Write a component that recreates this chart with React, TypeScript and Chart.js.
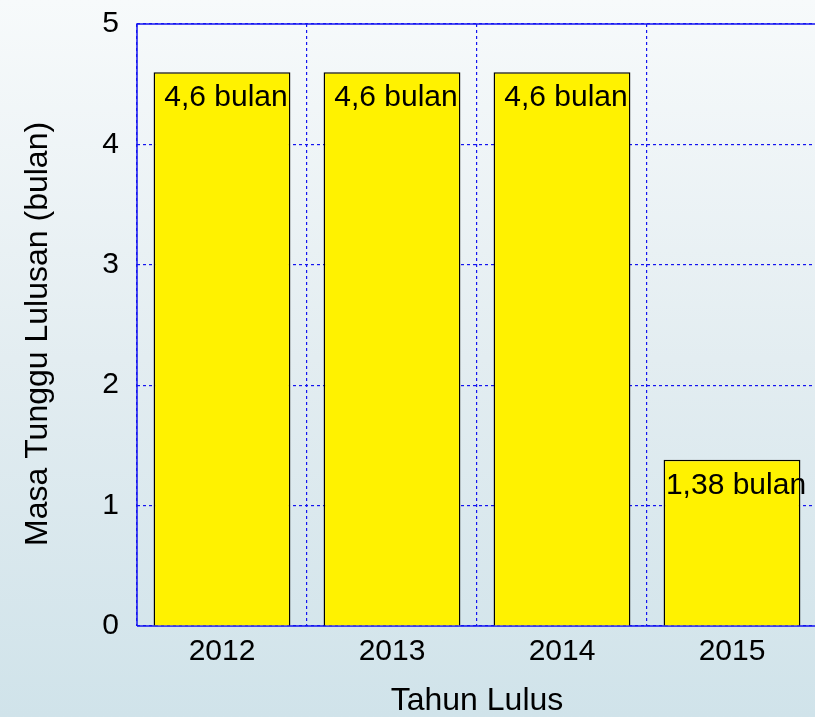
import React, { useEffect, useRef } from "react";
import { Chart, registerables } from "chart.js";

Chart.register(...registerables);

const categories = ["2012", "2013", "2014", "2015"];
const values = [4.6, 4.6, 4.6, 1.38];
const valueLabels = ["4,6 bulan", "4,6 bulan", "4,6 bulan", "1,38 bulan"];
const yTicks = [0, 1, 2, 3, 4, 5];

const FONT = "'Liberation Sans', Arial, sans-serif";
const BLUE = "rgb(20,20,240)";

const framePlugin = {
  id: "frame",
  beforeDatasetsDraw(chart: any) {
    const { ctx, chartArea } = chart;
    ctx.save();
    ctx.strokeStyle = BLUE;
    ctx.lineWidth = 1.5;
    ctx.setLineDash([]);
    ctx.beginPath();
    ctx.moveTo(chartArea.left, chartArea.bottom);
    ctx.lineTo(chartArea.left, chartArea.top);
    ctx.lineTo(chartArea.right, chartArea.top);
    ctx.stroke();
    ctx.beginPath();
    ctx.moveTo(chartArea.left, chartArea.bottom);
    ctx.lineTo(chartArea.right, chartArea.bottom);
    ctx.stroke();
    ctx.restore();
  },
};

const labelPlugin = {
  id: "barLabels",
  afterDatasetsDraw(chart: any) {
    const { ctx } = chart;
    const meta = chart.getDatasetMeta(0);
    ctx.save();
    ctx.fillStyle = "#000";
    ctx.font = `30px ${FONT}`;
    ctx.textAlign = "center";
    ctx.textBaseline = "top";
    meta.data.forEach((bar: any, i: number) => {
      ctx.fillText(valueLabels[i], bar.x + 4, bar.y + 11);
    });
    ctx.restore();
  },
};

export default function App() {
  const ref = useRef<HTMLCanvasElement>(null);
  useEffect(() => {
    document.body.style.margin = "0";
    const chart = new Chart(ref.current!, {
      type: "bar",
      data: {
        labels: categories,
        datasets: [
          {
            data: values,
            backgroundColor: "#fff200",
            borderColor: "#000",
            borderWidth: 1.5,
            categoryPercentage: 1,
            barPercentage: 0.805,
          },
        ],
      },
      options: {
        responsive: false,
        animation: false,
        layout: { padding: { top: 24, left: 0, right: 0, bottom: 0 } },
        plugins: {
          legend: { display: false },
          tooltip: { enabled: false },
        },
        scales: {
          x: {
            offset: true,
            grid: {
              offset: true,
              color: BLUE,
              tickColor: BLUE,
              lineWidth: 1.2,
              drawTicks: false,
            },
            border: { display: false, dash: [3, 3] },
            ticks: {
              color: "#000",
              font: { family: FONT, size: 30 },
              padding: 8,
            },
            title: {
              display: true,
              text: "Tahun Lulus",
              color: "#000",
              font: { family: FONT, size: 32 },
              padding: { top: 4, bottom: -3 },
            },
            afterFit(scale: any) {
              scale.height = 91;
            },
          },
          y: {
            min: 0,
            max: 5,
            afterBuildTicks(scale: any) {
              scale.ticks = yTicks.map((v) => ({ value: v }));
            },
            grid: {
              color: BLUE,
              tickColor: BLUE,
              lineWidth: 1.2,
              drawTicks: false,
            },
            border: { display: false, dash: [3, 3] },
            ticks: {
              color: "#000",
              font: { family: FONT, size: 30 },
              padding: 18,
            },
            title: {
              display: true,
              text: "Masa Tunggu Lulusan (bulan)  ",
              color: "#000",
              font: { family: FONT, size: 32 },
              padding: { top: 19, bottom: 0 },
            },
            afterFit(scale: any) {
              scale.width = 137;
              scale.paddingTop = 0;
              scale.paddingBottom = 0;
            },
          },
        },
      },
      plugins: [framePlugin, labelPlugin],
    });
    return () => chart.destroy();
  }, []);
  return (
    <div
      style={{
        position: "absolute",
        left: 0,
        top: 0,
        width: 815,
        height: 717,
        overflow: "hidden",
        background: "linear-gradient(to bottom, #f7fafb 0%, #e3edf1 50%, #d0e3ea 100%)",
      }}
    >
      <canvas ref={ref} width={817} height={717} style={{ display: "block", width: 817, height: 717 }} />
    </div>
  );
}
